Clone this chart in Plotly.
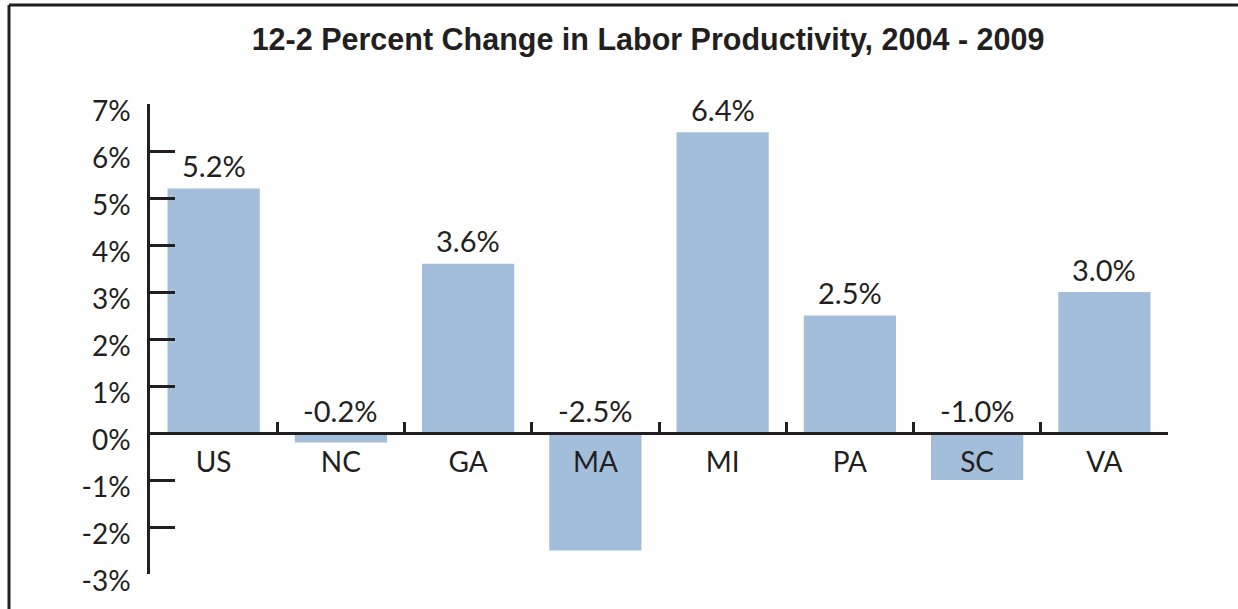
import plotly.graph_objects as go

# Percent change in labor productivity, 2004-2009
regions = ["US", "NC", "GA", "MA", "MI", "PA", "SC", "VA"]
pct_change = [5.2, -0.2, 3.6, -2.5, 6.4, 2.5, -1.0, 3.0]
y_ticks = [7, 6, 5, 4, 3, 2, 1, 0, -1, -2, -3]
y_tick_text = [f"{v}%" for v in y_ticks]

TITLE = "12-2 Percent Change in Labor Productivity, 2004 - 2009"
BAR_COLOR = "#a3bedb"
INK = "#231f20"
LABEL_FONT = dict(family="Lato, Open Sans, sans-serif", size=28, color=INK)
VALUE_FONT = dict(family="Lato, Open Sans, sans-serif", size=29, color=INK)

fig = go.Figure()

fig.add_trace(go.Bar(
    x=regions,
    y=pct_change,
    marker=dict(color=BAR_COLOR, line=dict(width=0)),
    hoverinfo="skip",
    showlegend=False,
))

# value labels sit above positive bars and above the zero line for negative ones
for region, v in zip(regions, pct_change):
    fig.add_annotation(
        x=region, y=max(v, 0),
        text=f"{v:.1f}%",
        showarrow=False,
        xanchor="center", yanchor="middle",
        yshift=23,
        font=VALUE_FONT,
    )

y_min, y_max = -3, 7
zero_pos = (0 - y_min) / (y_max - y_min)

fig.update_layout(
    width=1238,
    height=609,
    margin=dict(l=150, r=70, t=104, b=35),
    paper_bgcolor="white",
    plot_bgcolor="white",
    bargap=0.275,
    title=dict(
        text=TITLE,
        x=648 / 1238, xanchor="center",
        y=1 - 39 / 609, yanchor="middle",
        font=dict(family="Liberation Sans, Arial, sans-serif", size=30.5,
                  color=INK, weight="bold"),
    ),
    xaxis=dict(
        type="category",
        range=[-0.5, len(regions) - 0.5],
        anchor="free",
        position=zero_pos,
        showline=True,
        linecolor=INK,
        linewidth=2.5,
        ticks="inside",
        tickson="boundaries",
        ticklen=10,
        tickwidth=2.5,
        tickcolor=INK,
        showgrid=False,
        zeroline=False,
        tickfont=LABEL_FONT,
        ticklabelstandoff=4,
        fixedrange=True,
    ),
    yaxis=dict(
        range=[y_min, y_max],
        tickvals=y_ticks,
        ticktext=y_tick_text,
        showline=True,
        linecolor=INK,
        linewidth=2.5,
        ticks="inside",
        ticklen=25,
        tickwidth=2.5,
        tickcolor=INK,
        showgrid=False,
        zeroline=False,
        tickfont=LABEL_FONT,
        ticklabelstandoff=11,
        ticklabelshift=7,
        fixedrange=True,
    ),
)

# frame around the chart (left and top edges)
plot_w = 1238 - 150 - 70
plot_h = 609 - 104 - 35
left_x = (9 - 150) / plot_w
top_y = (609 - 35 - 5) / plot_h
frame = dict(color=INK, width=3)
fig.add_shape(type="line", xref="paper", yref="paper",
              x0=left_x, x1=left_x, y0=-0.3, y1=top_y, line=frame)
fig.add_shape(type="line", xref="paper", yref="paper",
              x0=left_x, x1=1.3, y0=top_y, y1=top_y, line=frame)

fig.write_html("out.html")
